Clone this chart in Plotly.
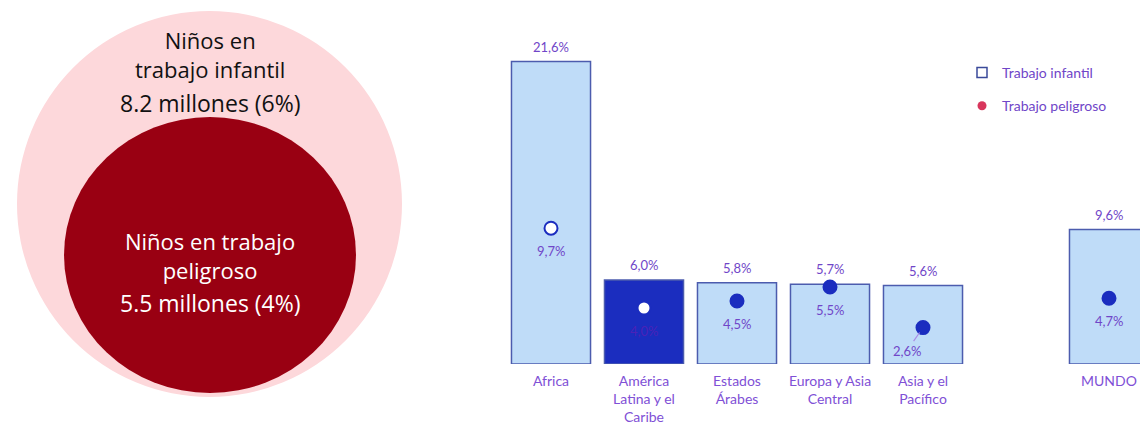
import plotly.graph_objects as go

# ---------------- data ----------------
regions = ["Africa", "América<br>Latina y el<br>Caribe", "Estados<br>Árabes",
           "Europa y Asia<br>Central", "Asia y el<br>Pacífico", "MUNDO"]
child_labour = [21.6, 6.0, 5.8, 5.7, 5.6, 9.6]
hazardous = [9.7, 4.0, 4.5, 5.5, 2.6, 4.7]
child_labour_txt = ["21,6%", "6,0%", "5,8%", "5,7%", "5,6%", "9,6%"]
hazardous_txt = ["9,7%", "4,0%", "4,5%", "5,5%", "2,6%", "4,7%"]

venn_titles = ["Niños en<br>trabajo infantil", "Niños en trabajo<br>peligroso"]
venn_values = ["8.2 millones (6%)", "5.5 millones (4%)"]

# ---------------- styles ----------------
PURPLE = "#7046c8"
TICK_PURPLE = "#8050d6"
NAVY = "#1b2dbf"
LIGHT = "#bfdcf8"
EDGE = "#4c5cae"
FONT = "Lato, Open Sans, sans-serif"
VFONT = "Open Sans"

W, H = 1140, 425

spacer = " "
axis_cats = regions[:-1] + [spacer] + regions[-1:]
highlight = regions[1]

bar_fill = [NAVY if r == highlight else LIGHT for r in regions]
dot_fill = ["white" if (i == 0 or r == highlight) else NAVY for i, r in enumerate(regions)]

fig = go.Figure()

fig.add_trace(go.Bar(
    x=regions, y=child_labour,
    marker=dict(color=bar_fill, line=dict(color=EDGE, width=1.5)),
    showlegend=False, hoverinfo="skip",
))
fig.add_trace(go.Scatter(
    x=regions, y=hazardous, mode="markers",
    marker=dict(size=13, color=dot_fill, line=dict(color=NAVY, width=2)),
    showlegend=False, hoverinfo="skip",
))
# spacer category (empty slot before MUNDO)
fig.add_trace(go.Scatter(x=[spacer], y=[None], mode="markers", showlegend=False,
                         hoverinfo="skip"))

# legend entries
fig.add_trace(go.Scatter(x=[None], y=[None], mode="markers", name="Trabajo infantil",
                         legendgroup="a",
                         marker=dict(symbol="square-open", size=10, color="#3a4a9a",
                                     line=dict(width=1.5))))
fig.add_trace(go.Scatter(x=[None], y=[None], mode="markers", name="Trabajo peligroso",
                         legendgroup="b",
                         marker=dict(symbol="circle", size=9, color="#d8365c")))

annotations = []
for r, v, t in zip(regions, child_labour, child_labour_txt):
    annotations.append(dict(x=r, y=v, xref="x", yref="y", text=t, showarrow=False,
                            yshift=15, font=dict(family=FONT, size=13, color=PURPLE)))
for i, (r, v, t) in enumerate(zip(regions, hazardous, hazardous_txt)):
    col = "#4a22b8" if r == highlight else PURPLE
    if r == regions[4]:
        annotations.append(dict(x=r, y=v, xref="x", yref="y", text=t, showarrow=True,
                                ax=-16, ay=23, arrowhead=0, arrowwidth=1.2,
                                arrowcolor="#a98be6", standoff=6,
                                font=dict(family=FONT, size=13, color=col)))
    else:
        annotations.append(dict(x=r, y=v, xref="x", yref="y", text=t, showarrow=False,
                                yshift=-23, font=dict(family=FONT, size=13, color=col)))

# venn diagram texts (pixel-like coordinates on hidden axes)
cx = 210
annotations.append(dict(x=cx, y=54, xref="x2", yref="y2", text=venn_titles[0],
                        showarrow=False, font=dict(family=VFONT, size=22, color="#111111")))
annotations.append(dict(x=cx, y=103, xref="x2", yref="y2", text=venn_values[0],
                        showarrow=False, font=dict(family=VFONT, size=23, color="#111111")))
annotations.append(dict(x=cx, y=255, xref="x2", yref="y2", text=venn_titles[1],
                        showarrow=False, font=dict(family=VFONT, size=22, color="white")))
annotations.append(dict(x=cx, y=303, xref="x2", yref="y2", text=venn_values[1],
                        showarrow=False, font=dict(family=VFONT, size=23, color="white")))

shapes = [
    dict(type="circle", xref="x2", yref="y2", x0=17, x1=402, y0=11, y1=397,
         fillcolor="#fdd8db", line=dict(width=0), layer="below"),
    dict(type="circle", xref="x2", yref="y2", x0=64, x1=356, y0=117, y1=393,
         fillcolor="#990012", line=dict(width=0), layer="below"),
]

left = 504.5
base = 364
fig.update_layout(
    width=W, height=H,
    margin=dict(l=0, r=0, t=0, b=0, autoexpand=False),
    paper_bgcolor="white", plot_bgcolor="rgba(0,0,0,0)",
    bargap=0.15,
    xaxis=dict(domain=[left / W, 1], type="category",
               categoryorder="array", categoryarray=axis_cats,
               range=[-0.5, -0.5 + (W - left) / 93],
               showgrid=False, zeroline=False, showline=False, ticks="",
               automargin=False,
               ticklabelstandoff=7,
               tickfont=dict(family=FONT, size=14, color=TICK_PURPLE)),
    yaxis=dict(domain=[(H - base) / H, 1], range=[0, base / 14], visible=False,
               automargin=False),
    xaxis2=dict(domain=[0, 420 / W], range=[0, 420], visible=False, anchor="y2",
                automargin=False),
    yaxis2=dict(domain=[0, 1], range=[H, 0], visible=False, anchor="x2",
                automargin=False),
    shapes=shapes,
    annotations=annotations,
    legend=dict(x=(1002 - 40) / W, y=1 - (61 - 4) / H,
                xanchor="left", yanchor="top",
                bgcolor="rgba(0,0,0,0)", tracegroupgap=12,
                font=dict(family=FONT, size=14, color=PURPLE)),
)

fig.write_html(
    "out.html",
    config={"displayModeBar": False},
    post_script="document.body.style.margin='0';document.body.style.overflow='hidden';",
)
